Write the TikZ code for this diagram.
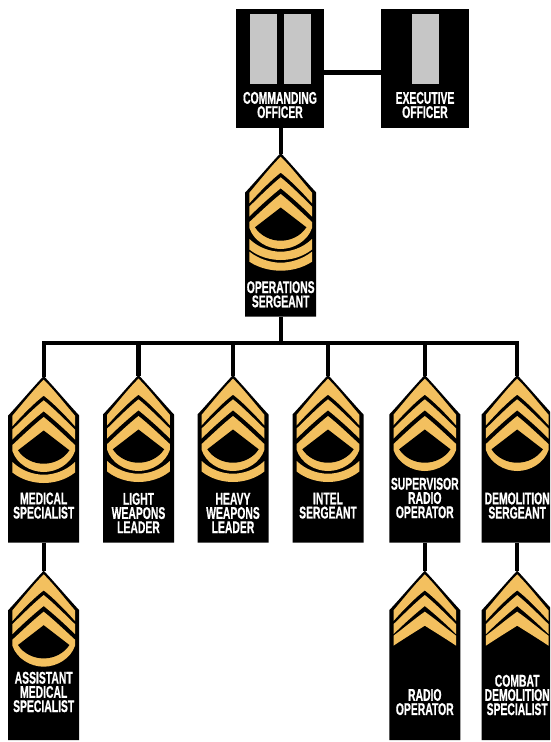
\documentclass[tikz,border=0pt]{standalone}
\usepackage{fontspec}
\newfontfamily\lab[FakeStretch=0.61,BoldFeatures={FakeBold=0.6}]{Liberation Sans}
\definecolor{gold}{HTML}{F3C05F}
\definecolor{barg}{HTML}{C6C6C6}
\tikzset{
  conn/.style={draw=black,line width=4.4pt},
  goldfill/.style={fill=gold,draw=none},
  shapefill/.style={fill=black,draw=none},
  bar/.style={fill=barg,draw=none},
  officer/.style={rectangle,fill=black,draw=none,minimum width=88pt,minimum height=118.7pt,inner sep=0pt},
  ranktext/.style={text=white,align=center,inner sep=0pt,font=\lab\bfseries\fontsize{17pt}{14.2pt}\selectfont},
}
% name, cx, top, bottom, ring?, rockers, label y, text
\newcommand{\rankbadge}[8]{%
  \begin{scope}[shift={(#2,#3)}]
    \fill[shapefill] (0,0) .. controls (10,10.5) and (23,26) .. (35.5,39.5) -- (35.5,#4-#3) -- (-35.5,#4-#3) -- (-35.5,39.5) .. controls (-23,26) and (-10,10.5) .. (0,0) -- cycle;
    \fill[goldfill] (0,3.7) .. controls (9.5,13) and (20.5,27) .. (31.3,39.7) -- (31.3,50.3) .. controls (20.9,38.5) and (9.5,27) .. (0,19.7) .. controls (-9.5,27) and (-20.9,38.5) .. (-31.3,50.3) -- (-31.3,39.7) .. controls (-20.5,27) and (-9.5,13) .. (0,3.7) -- cycle;
    \fill[goldfill] (0,24.3) .. controls (9.5,32) and (20.5,43) .. (31.3,53.5) -- (31.3,63.5) .. controls (20.9,53) and (9.5,43) .. (0,35.3) .. controls (-9.5,43) and (-20.9,53) .. (-31.3,63.5) -- (-31.3,53.5) .. controls (-20.5,43) and (-9.5,32) .. (0,24.3) -- cycle;
    \ifnum#5=1
      \fill[goldfill] (0,41) .. controls (9.5,48.5) and (20.5,59) .. (31.3,69) -- (31.3,75) .. controls (27,88) and (13,96) .. (0,96) .. controls (-13,96) and (-27,88) .. (-31.3,75) -- (-31.3,69) .. controls (-20.5,59) and (-9.5,48.5) .. (0,41) -- cycle;
      \fill[shapefill] (0,54.5) -- (25.7,74.3) .. controls (20,83) and (10,87.7) .. (0,87.7) .. controls (-10,87.7) and (-20,83) .. (-25.7,74.3) -- cycle;
    \else
      \fill[goldfill] (0,41) .. controls (9.5,47.5) and (20.5,57) .. (31.3,65) -- (31.3,75) .. controls (20.9,68) and (9.5,61) .. (0,55) .. controls (-9.5,61) and (-20.9,68) .. (-31.3,75) -- (-31.3,65) .. controls (-20.5,57) and (-9.5,47.5) .. (0,41) -- cycle;
    \fi
    \ifnum#6>0
      \fill[goldfill] (-31.3,86) .. controls (-22,95) and (-10,98.7) .. (0,98.7) .. controls (10,98.7) and (22,95) .. (31.3,86) -- (31.3,96.5) .. controls (22,104) and (10,107) .. (0,107) .. controls (-10,107) and (-22,104) .. (-31.3,96.5) -- cycle;
    \fi
    \ifnum#6>1
      \fill[goldfill] (-31.3,98.7) .. controls (-22,106) and (-10,109.7) .. (0,109.7) .. controls (10,109.7) and (22,106) .. (31.3,98.7) -- (31.3,108.7) .. controls (22,115) and (10,117.7) .. (0,117.7) .. controls (-10,117.7) and (-22,115) .. (-31.3,108.7) -- cycle;
    \fi
    \coordinate (#1-top) at (0,0.5);
    \coordinate (#1-bot) at (0,#4-#3);
  \end{scope}
  \node[ranktext] (#1) at (#2,#7) {#8};
}
\begin{document}
\begin{tikzpicture}[x=1pt,y=-1pt]
\useasboundingbox (0,0) rectangle (550,742);
\clip (0,0) rectangle (550,742);
\fill[white] (0,0) rectangle (550,742);
% officers
\node[officer] (co) at (280,68.35) {};
\node[officer] (xo) at (425,68.35) {};
\fill[bar] (250,14) rectangle (277,84);
\fill[bar] (284,14) rectangle (311,84);
\fill[bar] (412,14) rectangle (439,84);
\node[ranktext] (cot) at (280,105) {COMMANDING\\OFFICER};
\node[ranktext] (xot) at (425,105) {EXECUTIVE\\OFFICER};
% badges
\rankbadge{ops}{280.7}{153}{316.7}{1}{2}{294.3}{OPERATIONS\\SERGEANT}
\rankbadge{med}{43.7}{376}{542.7}{1}{1}{505.6}{MEDICAL\\SPECIALIST}
\rankbadge{light}{138.5}{375}{542.7}{1}{1}{513}{LIGHT\\WEAPONS\\LEADER}
\rankbadge{heavy}{233}{375}{542.7}{1}{1}{513}{HEAVY\\WEAPONS\\LEADER}
\rankbadge{intel}{328}{375}{542.7}{1}{1}{505.6}{INTEL\\SERGEANT}
\rankbadge{super}{424.8}{375}{542.7}{1}{0}{498}{SUPERVISOR\\RADIO\\OPERATOR}
\rankbadge{demo}{517.2}{375}{542.7}{1}{0}{505.6}{DEMOLITION\\SERGEANT}
\rankbadge{asst}{43.7}{570.7}{740}{1}{0}{692}{ASSISTANT\\MEDICAL\\SPECIALIST}
\rankbadge{radio}{424.8}{570.7}{740}{0}{0}{702}{RADIO\\OPERATOR}
\rankbadge{combat}{517.2}{570.7}{740}{0}{0}{695}{COMBAT\\DEMOLITION\\SPECIALIST}
% connectors
\coordinate (bus) at (280.7,342.7);
\draw[conn] (co.east |- 0,72.3) -- (xo.west |- 0,72.3);
\draw[conn] (co.south -| ops-top) -- (ops-top);
\draw[conn] (ops-bot) -- (bus);
\draw[conn] (med-top) |- (bus);
\draw[conn] (demo-top) |- (bus);
\draw[conn] (light-top) -- (light-top |- bus);
\draw[conn] (heavy-top) -- (heavy-top |- bus);
\draw[conn] (intel-top) -- (intel-top |- bus);
\draw[conn] (super-top) -- (super-top |- bus);
\draw[conn] (med-bot) -- (asst-top);
\draw[conn] (super-bot) -- (radio-top);
\draw[conn] (demo-bot) -- (combat-top);
\end{tikzpicture}
\end{document}
